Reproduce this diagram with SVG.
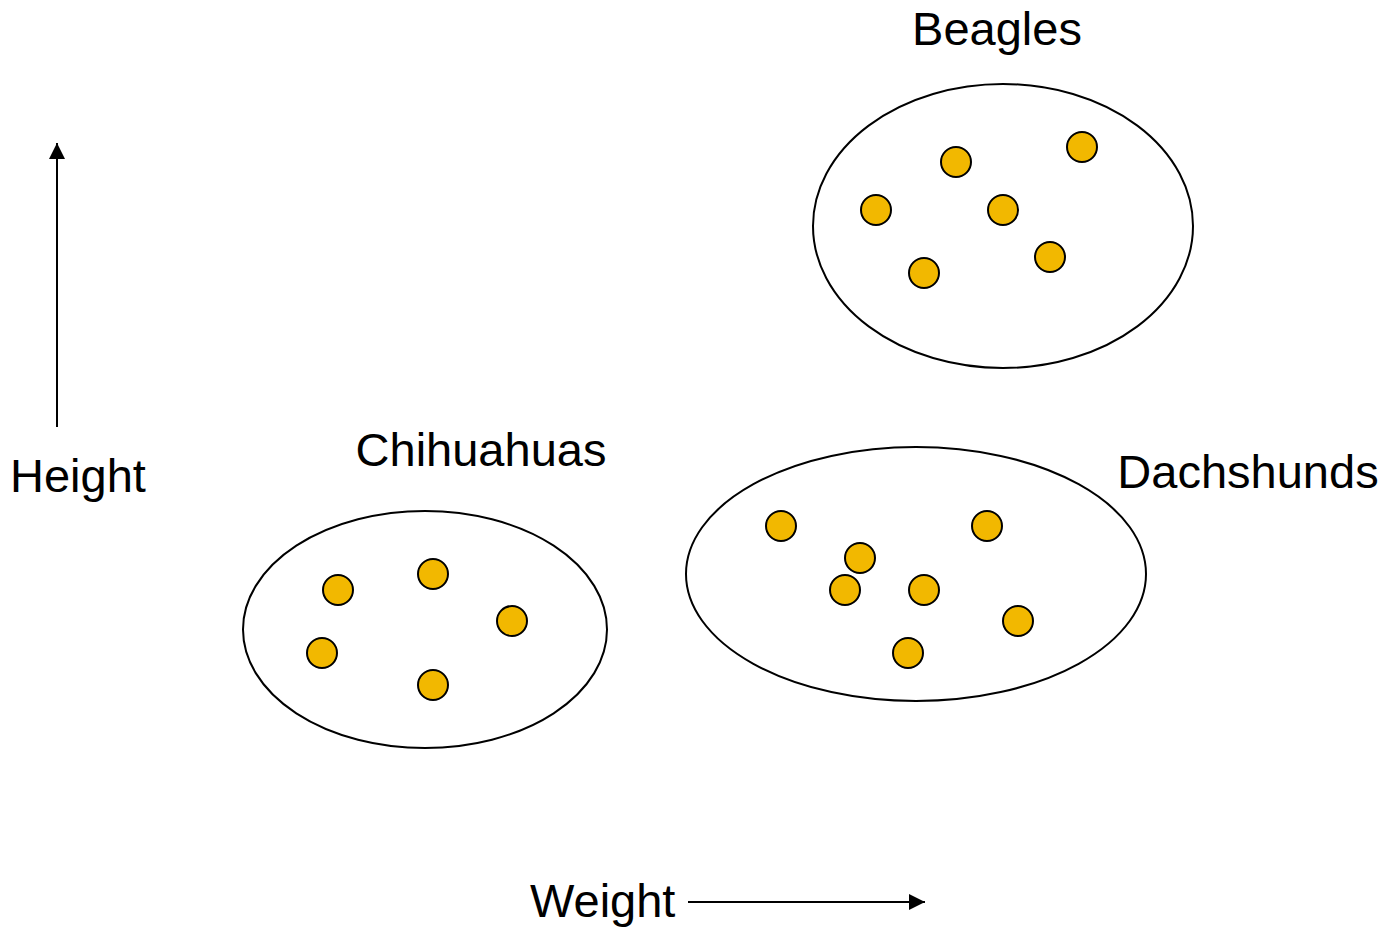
<svg xmlns="http://www.w3.org/2000/svg" width="1388" height="929" viewBox="0 0 1388 929">
<style>
text{font-family:"Liberation Sans",Arial,sans-serif;font-size:47px;fill:#000}
.grp{fill:none;stroke:#000;stroke-width:2}
.dot{fill:#F2B800;stroke:#000;stroke-width:2}
.axis{stroke:#000;stroke-width:2;fill:none}
</style>
<defs>
<marker id="ah" viewBox="0 0 16 16" refX="16" refY="8" markerWidth="16" markerHeight="16" markerUnits="userSpaceOnUse" orient="auto">
<path d="M0,0 L16,8 L0,16 Z" fill="#000"/>
</marker>
</defs>
<rect width="1388" height="929" fill="#fff"/>
<g id="connectors">
<line class="axis" x1="57" y1="427" x2="57" y2="143" marker-end="url(#ah)"/>
<line class="axis" x1="688" y1="902" x2="925" y2="902" marker-end="url(#ah)"/>
</g>
<g id="axis-labels">
<text x="10" y="492">Height</text>
<text x="530" y="917">Weight</text>
</g>
<g id="beagles">
<ellipse class="grp" cx="1003" cy="226" rx="190" ry="142"/>
<text x="997" y="45" text-anchor="middle">Beagles</text>
<circle class="dot" cx="956" cy="162" r="15"/>
<circle class="dot" cx="1082" cy="147" r="15"/>
<circle class="dot" cx="876" cy="210" r="15"/>
<circle class="dot" cx="1003" cy="210" r="15"/>
<circle class="dot" cx="1050" cy="257" r="15"/>
<circle class="dot" cx="924" cy="273" r="15"/>
</g>
<g id="chihuahuas">
<ellipse class="grp" cx="425" cy="629.5" rx="182" ry="118.5"/>
<text x="481" y="466" text-anchor="middle">Chihuahuas</text>
<circle class="dot" cx="338" cy="590" r="15"/>
<circle class="dot" cx="433" cy="574" r="15"/>
<circle class="dot" cx="512" cy="621" r="15"/>
<circle class="dot" cx="322" cy="653" r="15"/>
<circle class="dot" cx="433" cy="685" r="15"/>
</g>
<g id="dachshunds">
<ellipse class="grp" cx="916" cy="574" rx="230" ry="127"/>
<text x="1248" y="488" text-anchor="middle">Dachshunds</text>
<circle class="dot" cx="781" cy="526" r="15"/>
<circle class="dot" cx="987" cy="526" r="15"/>
<circle class="dot" cx="860" cy="558" r="15"/>
<circle class="dot" cx="845" cy="590" r="15"/>
<circle class="dot" cx="924" cy="590" r="15"/>
<circle class="dot" cx="1018" cy="621" r="15"/>
<circle class="dot" cx="908" cy="653" r="15"/>
</g>
</svg>
